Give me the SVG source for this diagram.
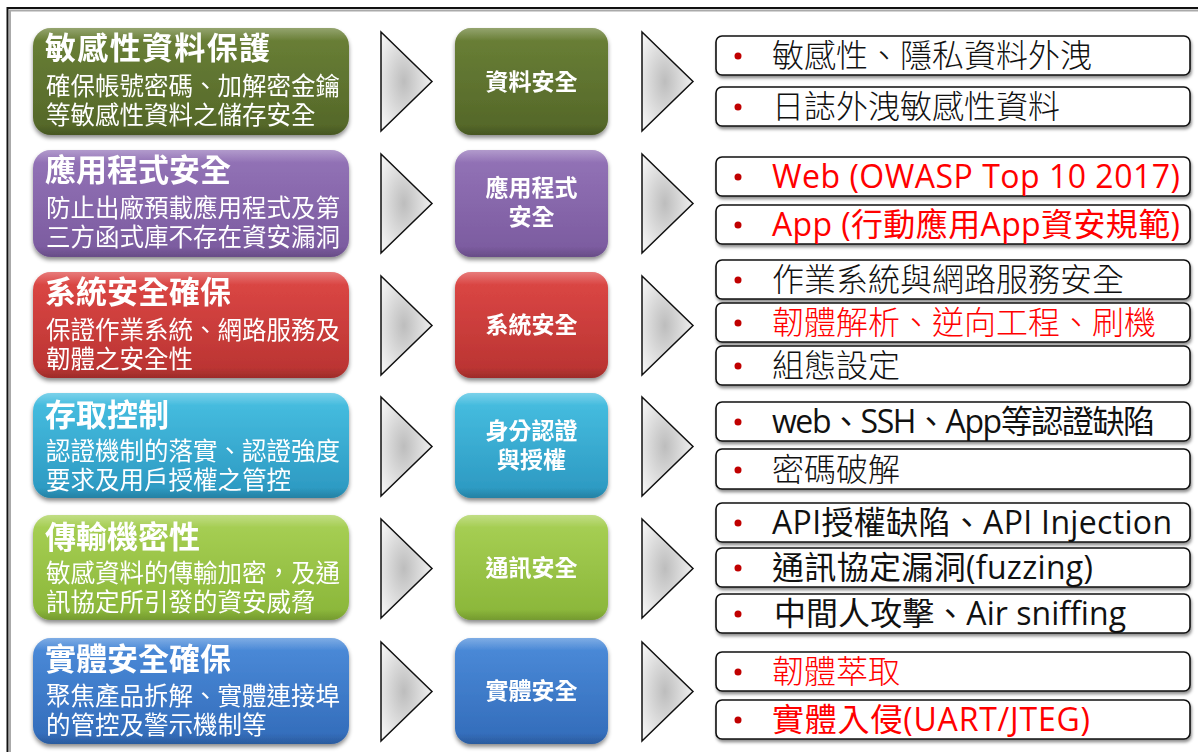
<svg xmlns="http://www.w3.org/2000/svg" width="1198" height="752" viewBox="0 0 1198 752">
<style>
.lt{font-family:"Liberation Sans","Noto Sans CJK TC",sans-serif;fill:#fff}
.ttl{font-weight:700;font-size:31px}
.sub{font-size:24.5px;font-weight:400}
.mid{font-family:"Open Sans","Noto Sans CJK TC",sans-serif;font-weight:700;font-size:23px;fill:#fff;text-anchor:middle}
.itm{font-family:"Open Sans","Noto Sans CJK TC",sans-serif;font-size:32px;font-weight:300;fill:#111}
.lat{font-weight:400}
.red{fill:#ff0000}
.rb{fill:#fff;stroke:#111;stroke-width:1.6}
.bul{fill:#c00000}
.chev{fill:url(#cg);stroke:#111;stroke-width:1.5;stroke-linejoin:miter}
.box{filter:url(#sh)}
</style>
<defs>
<filter id="sh" x="-10%" y="-10%" width="120%" height="130%">
<feDropShadow dx="0" dy="3" stdDeviation="2" flood-color="#000" flood-opacity="0.45"/>
</filter>
<filter id="sh2" x="-5%" y="-20%" width="110%" height="160%">
<feDropShadow dx="1" dy="2.5" stdDeviation="1.5" flood-color="#000" flood-opacity="0.45"/>
</filter>
<radialGradient id="cg" cx="0.45" cy="0.5" r="0.6">
<stop offset="0" stop-color="#bdbdbd"/>
<stop offset="1" stop-color="#f4f4f4"/>
</radialGradient>
<linearGradient id="g1" x1="0" y1="0" x2="0" y2="1"><stop offset="0" stop-color="#6b8137"/><stop offset="1" stop-color="#536628"/></linearGradient>
<linearGradient id="g2" x1="0" y1="0" x2="0" y2="1"><stop offset="0" stop-color="#9474b8"/><stop offset="1" stop-color="#7a5a9e"/></linearGradient>
<linearGradient id="g3" x1="0" y1="0" x2="0" y2="1"><stop offset="0" stop-color="#de4846"/><stop offset="1" stop-color="#b83331"/></linearGradient>
<linearGradient id="g4" x1="0" y1="0" x2="0" y2="1"><stop offset="0" stop-color="#48c0e2"/><stop offset="1" stop-color="#2b97c0"/></linearGradient>
<linearGradient id="g5" x1="0" y1="0" x2="0" y2="1"><stop offset="0" stop-color="#a9d156"/><stop offset="1" stop-color="#89b538"/></linearGradient>
<linearGradient id="g6" x1="0" y1="0" x2="0" y2="1"><stop offset="0" stop-color="#4c8cda"/><stop offset="1" stop-color="#326bb9"/></linearGradient>
<linearGradient id="gl" x1="0" y1="0" x2="0" y2="1"><stop offset="0" stop-color="#fff" stop-opacity="0.28"/><stop offset="0.12" stop-color="#fff" stop-opacity="0"/><stop offset="0.9" stop-color="#000" stop-opacity="0"/><stop offset="1" stop-color="#000" stop-opacity="0.15"/></linearGradient>
</defs>
<rect width="1198" height="752" fill="#fff"/>
<rect x="10" y="10.5" width="1200" height="760" fill="none" stroke="#aaa" stroke-width="2"/>
<rect x="7.5" y="8" width="1200" height="760" fill="none" stroke="#111" stroke-width="2"/>

<g id="connectors">
<polygon class="chev" points="381,32 432,81.5 381,131"/>
<polygon class="chev" points="642,32 693,81.5 642,131"/>
<polygon class="chev" points="381,154 432,203.5 381,253"/>
<polygon class="chev" points="642,154 693,203.5 642,253"/>
<polygon class="chev" points="381,276 432,325.5 381,375"/>
<polygon class="chev" points="642,276 693,325.5 642,375"/>
<polygon class="chev" points="381,397 432,446.5 381,496"/>
<polygon class="chev" points="642,397 693,446.5 642,496"/>
<polygon class="chev" points="381,519 432,568.5 381,618"/>
<polygon class="chev" points="642,519 693,568.5 642,618"/>
<polygon class="chev" points="381,642 432,691.5 381,741"/>
<polygon class="chev" points="642,642 693,691.5 642,741"/>
</g>

<g id="row1-left" class="box">
<rect x="33" y="28" width="316" height="107" rx="18" fill="url(#g1)"/>
<rect x="33" y="28" width="316" height="107" rx="18" fill="url(#gl)"/>
<text class="lt"><tspan class="ttl" x="45" y="59" textLength="225">敏感性資料保護</tspan><tspan class="sub" x="46" y="95">確保帳號密碼、加解密金鑰</tspan><tspan class="sub" x="46" y="124">等敏感性資料之儲存安全</tspan></text>
</g>
<g id="row1-mid" class="box">
<rect x="455" y="28" width="153" height="107" rx="16" fill="url(#g1)"/>
<rect x="455" y="28" width="153" height="107" rx="16" fill="url(#gl)"/>
<text class="mid" x="531.5" y="90">資料安全</text>
</g>
<g id="row1-right">
<rect class="rb" x="716" y="36" width="474" height="39" rx="6" filter="url(#sh2)"/>
<circle class="bul" cx="738" cy="56" r="3.5"/>
<text class="itm" x="772" y="67">敏感性、隱私資料外洩</text>
<rect class="rb" x="716" y="87" width="474" height="39" rx="6" filter="url(#sh2)"/>
<circle class="bul" cx="738" cy="107" r="3.5"/>
<text class="itm" x="772" y="118">日誌外洩敏感性資料</text>
</g>

<g id="row2-left" class="box">
<rect x="33" y="150" width="316" height="107" rx="18" fill="url(#g2)"/>
<rect x="33" y="150" width="316" height="107" rx="18" fill="url(#gl)"/>
<text class="lt"><tspan class="ttl" x="45" y="181">應用程式安全</tspan><tspan class="sub" x="46" y="217">防止出廠預載應用程式及第</tspan><tspan class="sub" x="46" y="246">三方函式庫不存在資安漏洞</tspan></text>
</g>
<g id="row2-mid" class="box">
<rect x="455" y="150" width="153" height="107" rx="16" fill="url(#g2)"/>
<rect x="455" y="150" width="153" height="107" rx="16" fill="url(#gl)"/>
<text class="mid"><tspan x="531.5" y="196">應用程式</tspan><tspan x="531.5" y="225">安全</tspan></text>
</g>
<g id="row2-right">
<rect class="rb" x="716" y="157" width="474" height="39" rx="6" filter="url(#sh2)"/>
<circle class="bul" cx="738" cy="177" r="3.5"/>
<text class="itm lat red" x="772" y="188" textLength="408">Web (OWASP Top 10 2017)</text>
<rect class="rb" x="716" y="205" width="474" height="39" rx="6" filter="url(#sh2)"/>
<circle class="bul" cx="738" cy="225" r="3.5"/>
<text class="itm lat red" x="772" y="236" textLength="408">App (行動應用App資安規範)</text>
</g>

<g id="row3-left" class="box">
<rect x="33" y="272" width="316" height="106" rx="18" fill="url(#g3)"/>
<rect x="33" y="272" width="316" height="106" rx="18" fill="url(#gl)"/>
<text class="lt"><tspan class="ttl" x="45" y="303">系統安全確保</tspan><tspan class="sub" x="46" y="339">保證作業系統、網路服務及</tspan><tspan class="sub" x="46" y="368">韌體之安全性</tspan></text>
</g>
<g id="row3-mid" class="box">
<rect x="455" y="272" width="153" height="106" rx="16" fill="url(#g3)"/>
<rect x="455" y="272" width="153" height="106" rx="16" fill="url(#gl)"/>
<text class="mid" x="531.5" y="333">系統安全</text>
</g>
<g id="row3-right">
<rect class="rb" x="716" y="260" width="474" height="39" rx="6" filter="url(#sh2)"/>
<circle class="bul" cx="738" cy="280" r="3.5"/>
<text class="itm" x="772" y="291">作業系統與網路服務安全</text>
<rect class="rb" x="716" y="303" width="474" height="39" rx="6" filter="url(#sh2)"/>
<circle class="bul" cx="738" cy="323" r="3.5"/>
<text class="itm red" x="772" y="334">韌體解析、逆向工程、刷機</text>
<rect class="rb" x="716" y="346" width="474" height="39" rx="6" filter="url(#sh2)"/>
<circle class="bul" cx="738" cy="366" r="3.5"/>
<text class="itm" x="772" y="377">組態設定</text>
</g>

<g id="row4-left" class="box">
<rect x="33" y="393" width="316" height="105" rx="18" fill="url(#g4)"/>
<rect x="33" y="393" width="316" height="105" rx="18" fill="url(#gl)"/>
<text class="lt"><tspan class="ttl" x="45" y="426">存取控制</tspan><tspan class="sub" x="46" y="460">認證機制的落實、認證強度</tspan><tspan class="sub" x="46" y="489">要求及用戶授權之管控</tspan></text>
</g>
<g id="row4-mid" class="box">
<rect x="455" y="393" width="153" height="105" rx="16" fill="url(#g4)"/>
<rect x="455" y="393" width="153" height="105" rx="16" fill="url(#gl)"/>
<text class="mid"><tspan x="531.5" y="439">身分認證</tspan><tspan x="531.5" y="468">與授權</tspan></text>
</g>
<g id="row4-right">
<rect class="rb" x="716" y="402" width="474" height="39" rx="6" filter="url(#sh2)"/>
<circle class="bul" cx="738" cy="422" r="3.5"/>
<text class="itm lat" x="772" y="433" textLength="383">web、SSH、App等認證缺陷</text>
<rect class="rb" x="716" y="449" width="474" height="40" rx="6" filter="url(#sh2)"/>
<circle class="bul" cx="738" cy="470" r="3.5"/>
<text class="itm" x="772" y="481">密碼破解</text>
</g>

<g id="row5-left" class="box">
<rect x="33" y="515" width="316" height="105" rx="18" fill="url(#g5)"/>
<rect x="33" y="515" width="316" height="105" rx="18" fill="url(#gl)"/>
<text class="lt"><tspan class="ttl" x="45" y="548">傳輸機密性</tspan><tspan class="sub" x="46" y="582">敏感資料的傳輸加密，及通</tspan><tspan class="sub" x="46" y="611">訊協定所引發的資安威脅</tspan></text>
</g>
<g id="row5-mid" class="box">
<rect x="455" y="515" width="153" height="105" rx="16" fill="url(#g5)"/>
<rect x="455" y="515" width="153" height="105" rx="16" fill="url(#gl)"/>
<text class="mid" x="531.5" y="576">通訊安全</text>
</g>
<g id="row5-right">
<rect class="rb" x="716" y="503" width="474" height="39" rx="6" filter="url(#sh2)"/>
<circle class="bul" cx="738" cy="523" r="3.5"/>
<text class="itm lat" x="772" y="534" textLength="400">API授權缺陷、API Injection</text>
<rect class="rb" x="716" y="548" width="474" height="39" rx="6" filter="url(#sh2)"/>
<circle class="bul" cx="738" cy="568" r="3.5"/>
<text class="itm lat" x="772" y="579" textLength="321">通訊協定漏洞(fuzzing)</text>
<rect class="rb" x="716" y="594" width="474" height="39" rx="6" filter="url(#sh2)"/>
<circle class="bul" cx="738" cy="614" r="3.5"/>
<text class="itm lat" x="774" y="625" textLength="352">中間人攻擊、Air sniffing</text>
</g>

<g id="row6-left" class="box">
<rect x="33" y="638" width="316" height="106" rx="18" fill="url(#g6)"/>
<rect x="33" y="638" width="316" height="106" rx="18" fill="url(#gl)"/>
<text class="lt"><tspan class="ttl" x="45" y="670">實體安全確保</tspan><tspan class="sub" x="46" y="705">聚焦產品拆解、實體連接埠</tspan><tspan class="sub" x="46" y="734">的管控及警示機制等</tspan></text>
</g>
<g id="row6-mid" class="box">
<rect x="455" y="638" width="153" height="106" rx="16" fill="url(#g6)"/>
<rect x="455" y="638" width="153" height="106" rx="16" fill="url(#gl)"/>
<text class="mid" x="531.5" y="699">實體安全</text>
</g>
<g id="row6-right">
<rect class="rb" x="716" y="652" width="474" height="39" rx="6" filter="url(#sh2)"/>
<circle class="bul" cx="738" cy="672" r="3.5"/>
<text class="itm red" x="772" y="683">韌體萃取</text>
<rect class="rb" x="716" y="700" width="474" height="39" rx="6" filter="url(#sh2)"/>
<circle class="bul" cx="738" cy="720" r="3.5"/>
<text class="itm lat red" x="772" y="731" textLength="318">實體入侵(UART/JTEG)</text>
</g>
</svg>
